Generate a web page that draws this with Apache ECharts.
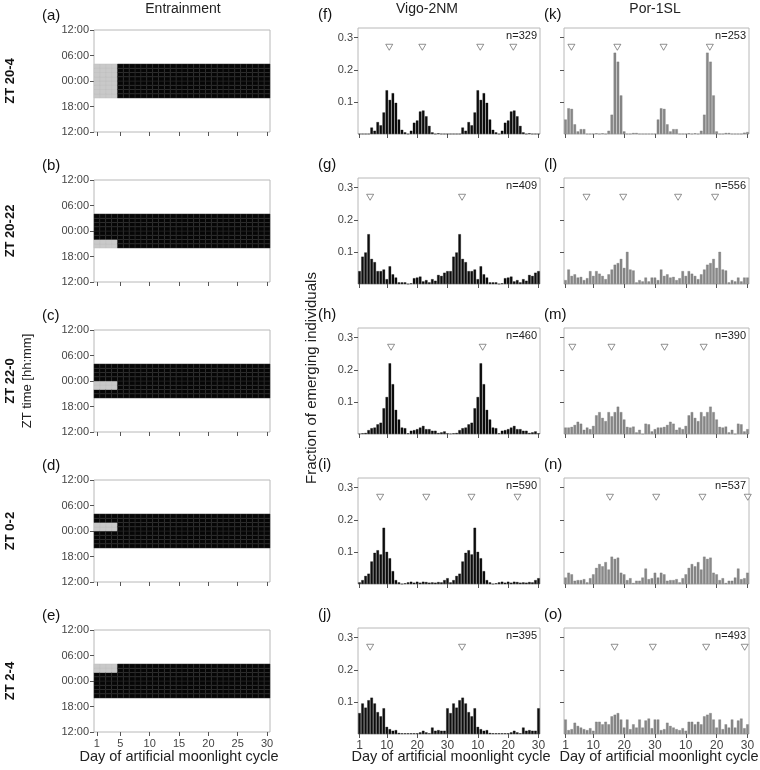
<!DOCTYPE html>
<html>
<head>
<meta charset="utf-8">
<title>Moonlight entrainment</title>
<script src="https://cdn.jsdelivr.net/npm/echarts@6/dist/echarts.min.js"></script>
<style>
  * { margin: 0; padding: 0 }
  html, body { width: 100%; height: 100%; background: #fff; }
  #main { width: 760px; height: 770px; }
</style>
</head>
<body>
<div id="main"></div>
<script>
// ---- entrainment panels (a-e) ----
var rowLabels = ['ZT 20-4', 'ZT 20-22', 'ZT 22-0', 'ZT 0-2', 'ZT 2-4'];
var leftLetters = ['(a)', '(b)', '(c)', '(d)', '(e)'];
var moonStart = [20, 20, 22, 24, 26];   // ZT hours, 24 = 00:00
var moonEnd = [28, 22, 24, 26, 28];
var nightStart = 20, nightEnd = 28;
var entrainDays = 4;
var cycleDays = 30;
var timeTicks = [12, 18, 24, 30, 36];
var timeLabels = ['12:00', '18:00', '00:00', '06:00', '12:00'];
var dayTicksLeft = [1, 5, 10, 15, 20, 25, 30];

// ---- emergence histograms (f-o), two moonlight cycles plotted ----
var dayTicksHist = [1, 10, 20, 30, 40, 50, 60];
var dayTickLabels = ['1', '10', '20', '30', '10', '20', '30'];
var yTicksHist = [0.1, 0.2, 0.3];
var triangleLevel = 0.27;

var vigoLetters = ['(f)', '(g)', '(h)', '(i)', '(j)'];
var porLetters = ['(k)', '(l)', '(m)', '(n)', '(o)'];
var vigoN = [329, 409, 460, 590, 395];
var porN = [253, 556, 390, 537, 493];

var vigo_f = [0,0,0,0,0.02,0.01,0.037,0.027,0.067,0.136,0.106,0.127,0.097,0.045,0.013,0.005,0,0.01,0.035,0.042,0.07,0.073,0.055,0.025,0.005,0,0.002,0,0,0,
              0,0,0,0,0.02,0.01,0.037,0.027,0.067,0.136,0.106,0.127,0.097,0.045,0.013,0.005,0,0.01,0.035,0.042,0.07,0.073,0.055,0.025,0.005,0,0.002,0,0,0];
var vigo_g = [0.04,0.085,0.098,0.155,0.078,0.068,0.04,0.04,0.045,0.015,0.055,0.03,0.02,0.005,0.005,0.005,0,0.002,0.018,0.02,0.023,0.008,0.012,0.005,0.015,0.01,0.028,0.025,0.035,0.04,
              0.04,0.085,0.098,0.155,0.078,0.068,0.04,0.04,0.045,0.015,0.055,0.03,0.02,0.005,0.005,0.005,0,0.002,0.018,0.02,0.023,0.008,0.012,0.005,0.015,0.01,0.028,0.025,0.035,0.04];
var vigo_h = [0.001,0.002,0.003,0.012,0.018,0.02,0.03,0.035,0.08,0.115,0.22,0.155,0.075,0.045,0.02,0.018,0.002,0.01,0.012,0.015,0.02,0.025,0.015,0.015,0.01,0.01,0.003,0.005,0.008,0.002,
              0.001,0.002,0.003,0.012,0.018,0.02,0.03,0.035,0.08,0.115,0.22,0.155,0.075,0.045,0.02,0.018,0.002,0.01,0.012,0.015,0.02,0.025,0.015,0.015,0.01,0.01,0.003,0.005,0.008,0.002];
var vigo_i = [0.005,0.012,0.025,0.032,0.07,0.097,0.105,0.092,0.175,0.1,0.08,0.04,0.012,0.005,0,0.002,0.005,0.007,0.004,0.007,0.004,0.007,0.006,0.004,0.005,0.004,0.006,0.005,0.012,0.018,
              0.005,0.012,0.025,0.032,0.07,0.097,0.105,0.092,0.175,0.1,0.08,0.04,0.012,0.005,0,0.002,0.005,0.007,0.004,0.007,0.004,0.007,0.006,0.004,0.005,0.004,0.006,0.005,0.012,0.018];
var vigo_j = [0.065,0.095,0.082,0.105,0.113,0.095,0.068,0.055,0.08,0.022,0.015,0.01,0.012,0.003,0.002,0.002,0.002,0.002,0.002,0.002,0.005,0.01,0.005,0.002,0.02,0.01,0.012,0.01,0.01,0.08,
              0.065,0.095,0.082,0.105,0.113,0.095,0.068,0.055,0.08,0.022,0.015,0.01,0.012,0.003,0.002,0.002,0.002,0.002,0.002,0.002,0.005,0.01,0.005,0.002,0.02,0.01,0.012,0.01,0.01,0.08];

var por_k = [0.045,0.08,0.078,0.03,0.008,0.015,0.015,0,0,0,0.002,0,0.002,0,0.01,0.06,0.253,0.225,0.12,0.008,0,0,0.003,0.003,0,0,0,0,0,0,
             0.045,0.08,0.078,0.03,0.008,0.015,0.015,0,0,0,0.002,0,0.002,0,0.01,0.06,0.253,0.225,0.12,0.008,0,0,0.003,0.003,0,0,0,0,0.004,0.006];
var por_l = [0.012,0.045,0.025,0.03,0.02,0.022,0.012,0.018,0.04,0.025,0.04,0.032,0.025,0.015,0.03,0.045,0.06,0.065,0.078,0.05,0.1,0.045,0.042,0.005,0.012,0.008,0.02,0.008,0.02,0.02,
             0.012,0.045,0.025,0.03,0.02,0.022,0.012,0.018,0.04,0.025,0.04,0.032,0.025,0.015,0.03,0.045,0.06,0.065,0.078,0.05,0.1,0.045,0.042,0.005,0.012,0.008,0.02,0.008,0.02,0.02];
var por_m = [0.02,0.02,0.022,0.028,0.038,0.032,0.013,0.02,0.015,0.025,0.058,0.068,0.05,0.04,0.068,0.055,0.068,0.085,0.068,0.045,0.022,0.02,0.023,0.005,0.013,0,0.032,0.03,0.008,0.015,
             0.02,0.02,0.022,0.028,0.038,0.032,0.013,0.02,0.015,0.025,0.058,0.068,0.05,0.04,0.068,0.055,0.068,0.085,0.068,0.045,0.022,0.02,0.023,0.005,0.013,0,0.032,0.03,0.008,0.015];
var por_n = [0.02,0.035,0.03,0.01,0.012,0.012,0.015,0.005,0.018,0.03,0.05,0.062,0.055,0.068,0.045,0.085,0.078,0.082,0.035,0.03,0.012,0.018,0.003,0.01,0.01,0.02,0.048,0.015,0.018,0.035,
             0.02,0.035,0.03,0.01,0.012,0.012,0.015,0.005,0.018,0.03,0.05,0.062,0.055,0.068,0.045,0.085,0.078,0.082,0.035,0.03,0.012,0.018,0.003,0.01,0.01,0.02,0.048,0.015,0.018,0.035];
var por_o = [0.045,0.012,0.015,0.035,0.025,0.02,0.015,0.012,0.018,0.01,0.038,0.038,0.03,0.038,0.03,0.055,0.06,0.065,0.045,0.02,0.045,0.015,0.03,0.02,0.045,0.02,0.042,0.048,0.018,0.045,
             0.045,0.012,0.015,0.035,0.025,0.02,0.015,0.012,0.018,0.01,0.038,0.038,0.03,0.038,0.03,0.055,0.06,0.065,0.045,0.02,0.045,0.015,0.03,0.02,0.045,0.02,0.042,0.048,0.018,0.03];

var vigoTri = [[10.8, 21.7, 40.8, 51.7], [4.5, 34.8], [11.4, 41.6], [7.8, 23.0, 37.9, 53.1], [4.5, 34.8]];
var porTri = [[2.9, 17.8, 32.8, 47.8], [7.8, 19.7, 37.5, 49.5], [3.2, 15.9, 33.1, 45.8], [15.4, 30.4, 45.4, 60.1], [16.9, 29.3, 46.6, 59.1]];

var vigoData = [vigo_f, vigo_g, vigo_h, vigo_i, vigo_j];
var porData = [por_k, por_l, por_m, por_n, por_o];

var FONT = '"Liberation Sans", Arial, sans-serif';
var leftTops = [30, 180, 330, 480, 630];
var histTops = [28, 178, 328, 478, 628];

var chart = echarts.init(document.getElementById('main'));
var grids = [], xAxes = [], yAxes = [], series = [], graphic = [];

function tickStyle() {
  return { show: true, length: 4, lineStyle: { color: '#555', width: 1 } };
}

// entrainment panels
for (var i = 0; i < 5; i++) {
  grids.push({ left: 94, top: leftTops[i], width: 176, height: 102, show: true,
    borderColor: '#b8b8b8', borderWidth: 1, backgroundColor: '#fff' });
  var gi = grids.length - 1;
  xAxes.push({ type: 'value', gridIndex: gi, min: 0.5, max: 30.5,
    axisLine: { show: false }, splitLine: { show: false },
    axisTick: Object.assign(tickStyle(), { customValues: dayTicksLeft }),
    axisLabel: { show: i === 4, customValues: dayTicksLeft, color: '#444', fontSize: 11, fontFamily: FONT, margin: 6 } });
  yAxes.push({ type: 'value', gridIndex: gi, min: 12, max: 36, interval: 6,
    axisLine: { show: false }, splitLine: { show: false }, axisTick: tickStyle(),
    axisLabel: { color: '#444', fontSize: 11, fontFamily: FONT, margin: 5,
      formatter: function (v) { return timeLabels[timeTicks.indexOf(v)]; } } });
  var cells = [];
  for (var d = 1; d <= cycleDays; d++) {
    for (var h = nightStart; h < nightEnd; h++) {
      var moon = (d <= entrainDays && h >= moonStart[i] && h < moonEnd[i]) ? 1 : 0;
      cells.push([d, h, moon]);
    }
  }
  series.push({ type: 'custom', xAxisIndex: gi, yAxisIndex: gi, data: cells, silent: true, animation: false,
    renderItem: function (params, api) {
      var p0 = api.coord([api.value(0) - 0.5, api.value(1) + 1]);
      var p1 = api.coord([api.value(0) + 0.5, api.value(1)]);
      var moon = api.value(2) === 1;
      return { type: 'rect', shape: { x: p0[0], y: p0[1], width: p1[0] - p0[0], height: p1[1] - p0[1] },
        style: { fill: moon ? '#c9c9c9' : '#060606', stroke: moon ? '#bdbdbd' : '#2c2c2c', lineWidth: 0.5 } };
    } });
  graphic.push({ type: 'text', left: 42, top: leftTops[i] - 22, style: { text: leftLetters[i], font: '15px ' + FONT, fill: '#111' } });
  graphic.push({ type: 'text', x: 4, y: leftTops[i] + 51, rotation: Math.PI / 2,
    style: { text: rowLabels[i], font: 'bold 13px ' + FONT, fill: '#111', align: 'center', verticalAlign: 'top' } });
}

// histogram panels
function addHist(col, r, values, tri, nVal, letter) {
  var left = col === 0 ? 358 : 564;
  var width = col === 0 ? 182 : 185;
  grids.push({ left: left, top: histTops[r], width: width, height: 106, show: true,
    borderColor: '#b8b8b8', borderWidth: 1, backgroundColor: '#fff' });
  var gi = grids.length - 1;
  xAxes.push({ type: 'value', gridIndex: gi, min: 0.5, max: 60.5,
    axisLine: { show: false }, splitLine: { show: false },
    axisTick: Object.assign(tickStyle(), { customValues: dayTicksHist }),
    axisLabel: { show: r === 4, customValues: dayTicksHist, color: '#444', fontSize: 12, fontFamily: FONT, margin: 6,
      formatter: function (v) { return dayTickLabels[dayTicksHist.indexOf(v)]; } } });
  yAxes.push({ type: 'value', gridIndex: gi, min: 0, max: 0.33,
    axisLine: { show: false }, splitLine: { show: false },
    axisTick: Object.assign(tickStyle(), { customValues: yTicksHist }),
    axisLabel: { show: col === 0, customValues: yTicksHist, color: '#444', fontSize: 11, fontFamily: FONT, margin: 5 } });
  series.push({ type: 'bar', xAxisIndex: gi, yAxisIndex: gi, barWidth: 2.5, animation: false, silent: true,
    data: values.map(function (v, k) { return [k + 1, v]; }),
    itemStyle: { color: col === 0 ? '#0d0d0d' : '#888888', borderColor: col === 0 ? '#000' : '#6e6e6e', borderWidth: 0.3 } });
  series.push({ type: 'scatter', xAxisIndex: gi, yAxisIndex: gi, animation: false, silent: true,
    symbol: 'triangle', symbolRotate: 180, symbolSize: [7, 6],
    data: tri.map(function (d) { return [d, triangleLevel]; }),
    itemStyle: { color: '#fff', borderColor: '#555', borderWidth: 0.8 } });
  graphic.push({ type: 'text', right: 760 - left - width + 3, top: histTops[r] + 2,
    style: { text: 'n=' + nVal, font: '11px ' + FONT, fill: '#222' } });
  graphic.push({ type: 'text', left: left - (col === 0 ? 40 : 20), top: histTops[r] - 21,
    style: { text: letter, font: '15px ' + FONT, fill: '#111' } });
}
for (var r = 0; r < 5; r++) {
  addHist(0, r, vigoData[r], vigoTri[r], vigoN[r], vigoLetters[r]);
  addHist(1, r, porData[r], porTri[r], porN[r], porLetters[r]);
}

// column titles and axis names
graphic.push({ type: 'text', x: 183, y: 2, style: { text: 'Entrainment', font: '14px ' + FONT, fill: '#222', align: 'center' } });
graphic.push({ type: 'text', x: 427, y: 2, style: { text: 'Vigo-2NM', font: '14px ' + FONT, fill: '#222', align: 'center' } });
graphic.push({ type: 'text', x: 655, y: 2, style: { text: 'Por-1SL', font: '14px ' + FONT, fill: '#222', align: 'center' } });
graphic.push({ type: 'text', x: 21, y: 381, rotation: Math.PI / 2,
  style: { text: 'ZT time [hh:mm]', font: '13px ' + FONT, fill: '#222', align: 'center', verticalAlign: 'top' } });
graphic.push({ type: 'text', x: 304, y: 378, rotation: Math.PI / 2,
  style: { text: 'Fraction of emerging individuals', font: '15px ' + FONT, fill: '#222', align: 'center', verticalAlign: 'top' } });
graphic.push({ type: 'text', x: 179, y: 749, style: { text: 'Day of artificial moonlight cycle', font: '14.5px ' + FONT, fill: '#222', align: 'center' } });
graphic.push({ type: 'text', x: 451, y: 749, style: { text: 'Day of artificial moonlight cycle', font: '14.5px ' + FONT, fill: '#222', align: 'center' } });
graphic.push({ type: 'text', x: 659, y: 749, style: { text: 'Day of artificial moonlight cycle', font: '14.5px ' + FONT, fill: '#222', align: 'center' } });

chart.setOption({
  animation: false,
  backgroundColor: '#fff',
  grid: grids,
  xAxis: xAxes,
  yAxis: yAxes,
  series: series,
  graphic: graphic
});
</script>
</body>
</html>
